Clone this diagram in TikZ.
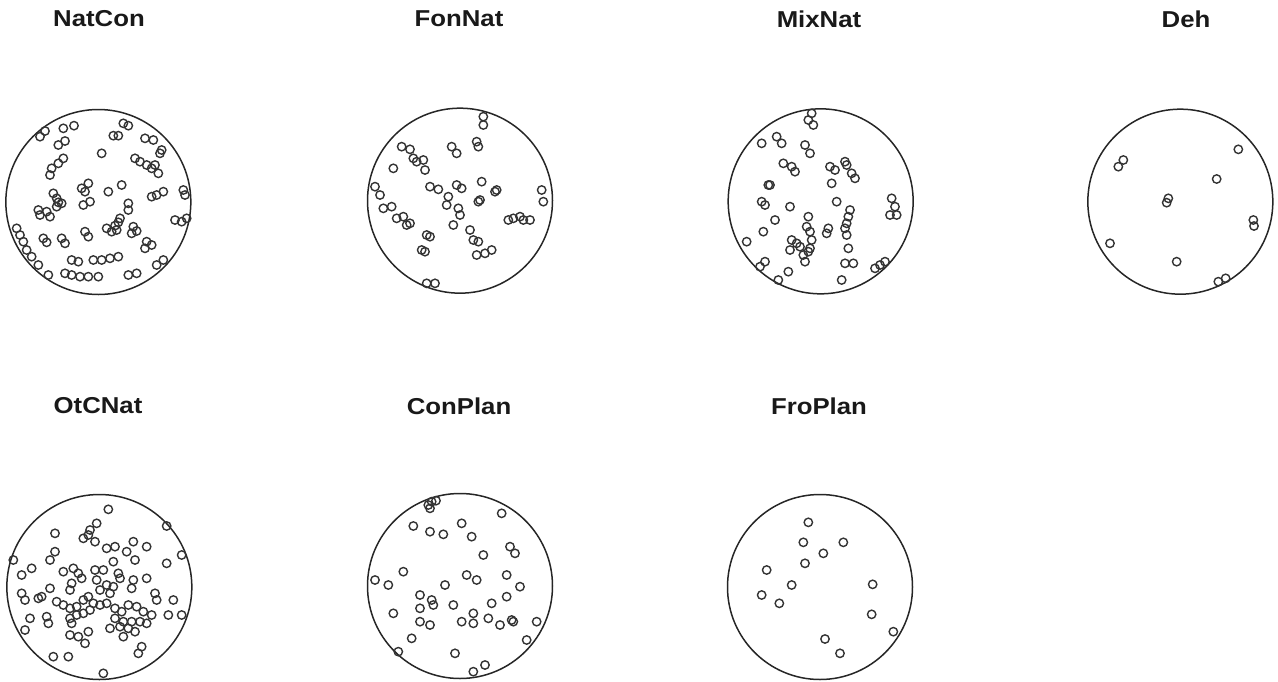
\documentclass[tikz,border=0pt]{standalone}
\usepackage{fontspec}
\setmainfont{Liberation Sans}
\newcommand\mypanel[5]{%
  \begin{scope}[shift={(#1,#2)}]
    \draw[bigc] ({#3/3},{#4/3}) circle[radius=92.5];
    \foreach \a/\b in {#5} \draw[ptc] ({\a/3},{\b/3}) circle[radius=4.2];
  \end{scope}}
\begin{document}
\begin{tikzpicture}[x=1pt,y=-1pt,
  bigc/.style={line width=1.5pt,draw=black!85},
  ptc/.style={line width=1.4pt,draw=black!80},
  ttl/.style={font=\bfseries\fontsize{23}{25}\selectfont,text=black!90,inner sep=0pt,xscale=1.12}]
\useasboundingbox (0,0) rectangle (1278,681);
\node[ttl] (t1) at (99,19) {NatCon};
\node[ttl] (t2) at (459,19) {FonNat};
\node[ttl] (t3) at (819,19) {MixNat};
\node[ttl] (t4) at (1186,19) {Deh};
\node[ttl] (t5) at (98,406) {OtCNat};
\node[ttl] (t6) at (459,406) {ConPlan};
\node[ttl] (t7) at (819,406) {FroPlan};
% NatCon
\mypanel{0}{105}{295}{291}{120/95,135/78,190/70,222/62,175/120,195/108,190/160,175/175,155/190,150/210,305/145,340/92,355/92,370/55,385/62,435/100,460/105,485/135,480/145,405/160,420/170,440/180,455/190,465/180,475/205,265/235,245/250,255/260,325/260,365/240,160/265,170/280,175/292,115/315,120/330,140/320,150/335,170/305,185/295,250/300,270/290,385/295,385/315,360/340,355/352,345/362,320/370,335/380,350/375,400/365,410/378,395/385,455/275,470/270,490/260,550/255,555/270,525/345,545/350,560/340,255/380,265/395,130/400,140/412,185/400,195/415,440/410,435/430,455/420,50/370,60/390,70/410,80/435,95/455,115/480,145/510,215/465,235/470,280/465,305/465,330/460,355/455,195/505,215/510,240/515,265/515,295/515,385/510,410/505,470/480,490/465}
% FonNat
\mypanel{360}{100}{300}{302}{370/50,370/75,350/125,355/140,275/140,290/160,125/140,150/148,160/175,170/185,190/180,195/210,100/205,45/260,60/285,70/325,95/320,110/355,130/350,150/370,140/375,210/260,235/268,290/255,305/265,365/245,405/275,410/270,355/305,360/300,265/290,260/315,295/325,300/345,280/375,200/405,210/410,185/450,195/455,330/390,340/420,355/425,350/465,375/460,395/450,445/360,460/355,480/350,510/360,490/360,545/270,550/305,200/550,225/550}
% MixNat
\mypanel{720}{100}{302}{304}{275/40,265/60,280/75,125/130,170/110,185/130,255/135,270/160,190/190,215/200,225/215,330/200,345/210,375/185,380/195,395/220,405/235,145/255,150/255,335/250,125/305,135/315,210/320,350/305,165/360,265/350,260/380,270/395,325/385,320/400,390/330,385/350,380/370,375/385,380/405,130/395,80/425,215/420,230/430,210/450,240/440,250/465,265/455,275/420,270/445,255/485,385/445,375/490,400/490,515/295,525/320,510/345,530/345,120/500,135/485,205/515,175/540,365/540,465/505,480/495,495/485}
% Deh
\mypanel{1080}{100}{301}{305}{130/180,115/200,475/148,410/237,265/295,260/308,520/360,522/378,90/430,290/485,415/545,437/535}
% OtCNat
\mypanel{0}{490}{298}{291}{325/58,500/108,290/100,270/120,250/145,265/135,285/155,165/130,400/155,440/170,380/185,405/210,320/175,345/170,165/185,150/210,40/210,545/195,500/220,65/255,95/235,190/245,220/235,235/250,245/265,215/280,210/300,285/240,310/240,340/215,355/250,360/265,290/270,320/285,340/290,300/300,330/310,400/270,395/295,440/265,150/295,125/320,115/325,65/310,75/330,170/335,190/345,210/355,230/350,250/330,265/320,280/340,300/345,320/340,270/360,250/370,230/375,210/385,215/400,345/355,365/365,385/345,410/350,430/365,455/375,465/310,470/330,520/330,505/375,545/375,345/385,370/395,395/395,420/395,440/400,360/410,385/415,405/425,370/440,330/415,90/385,75/420,140/380,145/400,210/435,235/440,265/425,255/460,415/490,425/470,160/500,205/500,310/550}
% ConPlan
\mypanel{360}{490}{300}{288}{205/45,215/35,228/32,210/55,425/70,160/108,210/125,250/133,305/100,335/140,450/170,465/190,370/195,130/245,45/270,85/285,255/285,320/255,350/270,440/255,480/290,180/315,215/330,220/345,180/355,280/345,395/340,440/320,100/370,180/395,210/405,305/395,340/370,340/400,385/385,420/405,455/390,460/395,530/395,155/445,500/450,115/485,285/490,340/545,375/525}
% FroPlan
\mypanel{720}{490}{300}{291}{265/97,250/157,370/157,310/190,255/220,140/240,215/285,125/315,178/340,458/283,455/373,520/425,315/447,360/490}
\end{tikzpicture}
\end{document}
